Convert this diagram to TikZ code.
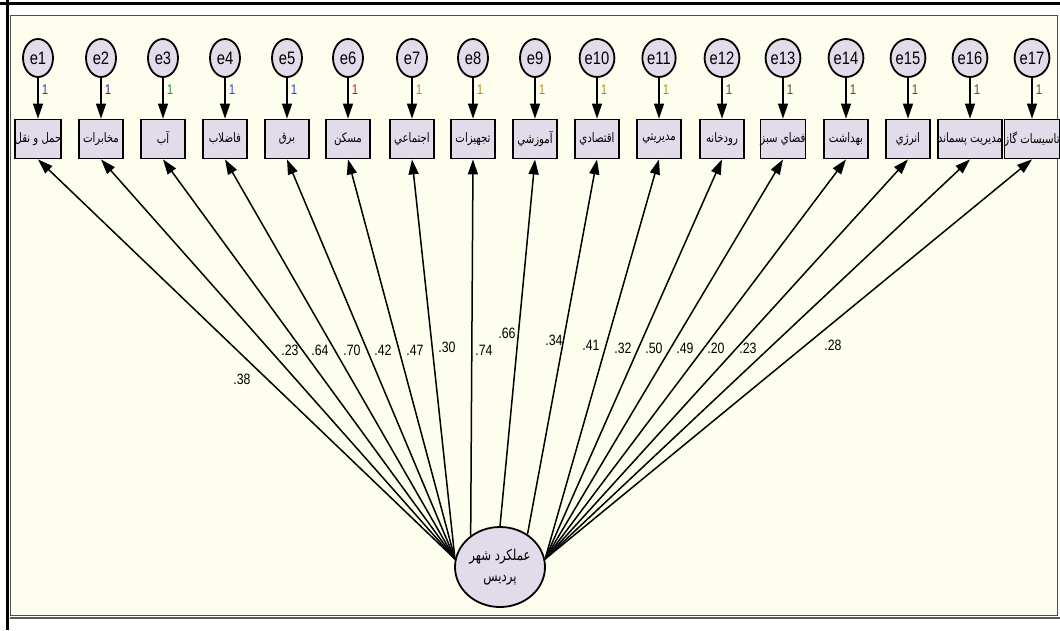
\documentclass[tikz,border=0pt]{standalone}
\usepackage{fontspec}
\setmainfont{Liberation Sans}[FakeStretch=0.82]
\newfontfamily\fa[Script=Arabic,FakeStretch=0.78]{DejaVu Sans}
\TeXXeTstate=1
\usetikzlibrary{arrows.meta,shapes.geometric}
\definecolor{panel}{RGB}{254,254,238}
\definecolor{nodefill}{RGB}{226,220,234}
\definecolor{cA}{RGB}{40,70,200}
\definecolor{cB}{RGB}{60,40,120}
\definecolor{cC}{RGB}{40,140,60}
\definecolor{cD}{RGB}{200,30,30}
\definecolor{cE}{RGB}{190,140,30}
\definecolor{cF}{RGB}{90,80,40}
\begin{document}
\begin{tikzpicture}[x=1pt,y=-1pt,
  errnode/.style={ellipse, draw, line width=1.8pt, fill=nodefill, minimum width=30pt, minimum height=38pt, inner sep=0pt, font=\fontsize{18}{18}\selectfont},
  obsnode/.style={rectangle, draw, line width=1.8pt, fill=nodefill, minimum width=44pt, minimum height=39pt, inner sep=0pt, font=\fa\fontsize{13}{15}\selectfont},
  latnode/.style={ellipse, draw, line width=1.8pt, fill=nodefill, minimum width=90pt, minimum height=80pt, inner sep=0pt, align=center, font=\fa\fontsize{15}{17}\selectfont},
  arr/.style={-{Triangle[length=15pt,width=10pt]}, line width=1.5pt},
  coef/.style={font=\fontsize{15}{15}\selectfont, inner sep=0pt},
  onelab/.style={font=\fontsize{14}{14}\selectfont, inner sep=0pt}]
\useasboundingbox (0,0) rectangle (1060,630);
\fill[white] (0,0) rectangle (1060,630);
\fill[panel] (10,15) rectangle (1057,615);
\draw[line width=1pt, black!70] (10,15) rectangle (1057,615);
\draw[line width=3pt] (0,3) -- (1060,3);
\draw[line width=3pt] (7,0) -- (7,630);
\draw[line width=2.5pt, black!65] (10,618) -- (1060,618);

\node[latnode] (lat) at (500,567) {\beginR عملکرد شهر\endR\\[4pt]\beginR پرديس\endR};

\foreach \i/\x/\t/\c/\a in {
  1/38/{حمل و نقل}/cA/170,
  2/101/{مخابرات}/cB/170,
  3/163/{آب}/cC/170,
  4/225/{فاضلاب}/cA/170,
  5/287/{برق}/cA/170,
  6/348/{مسکن}/cD/170,
  7/412/{اجتماعي}/cE/170,
  8/473/{تجهيزات}/cE/133,
  9/535/{آموزشي}/cE/90,
  10/597/{اقتصادي}/cE/50,
  11/659/{مديريتي}/cE/10,
  12/722/{رودخانه}/cF/10,
  13/783/{فضاي سبز}/cF/10,
  14/846/{بهداشت}/cF/10,
  15/908/{انرژي}/cF/10,
  16/970/{مديريت پسماند}/cF/10,
  17/1032/{تاسيسات گاز}/cF/10}{
  \node[errnode] (e\i) at (\x,58) {e\i};
  \node[obsnode] (o\i) at (\x,139) {\beginR\t\endR};
  \draw[arr] (e\i.south) -- (o\i.north);
  \node[onelab, text=\c] (one\i) at (\x+7,90) {1};
  \draw[arr] (lat.\a) -- (o\i.south);
}

\foreach \i/\v/\px/\py in {1/.38/242/379, 2/.23/290/350, 3/.64/320/350, 4/.70/352/350,
  5/.42/383/350, 6/.47/415/350, 7/.30/447/347, 8/.74/484/350, 9/.66/507/333,
  10/.34/554/340, 11/.41/591/345, 12/.32/623/348, 13/.50/654/348, 14/.49/685/348,
  15/.20/716/348, 16/.23/748/348, 17/.28/833/345}{
  \node[coef] (w\i) at (\px,\py) {\v};
}
\end{tikzpicture}
\end{document}
